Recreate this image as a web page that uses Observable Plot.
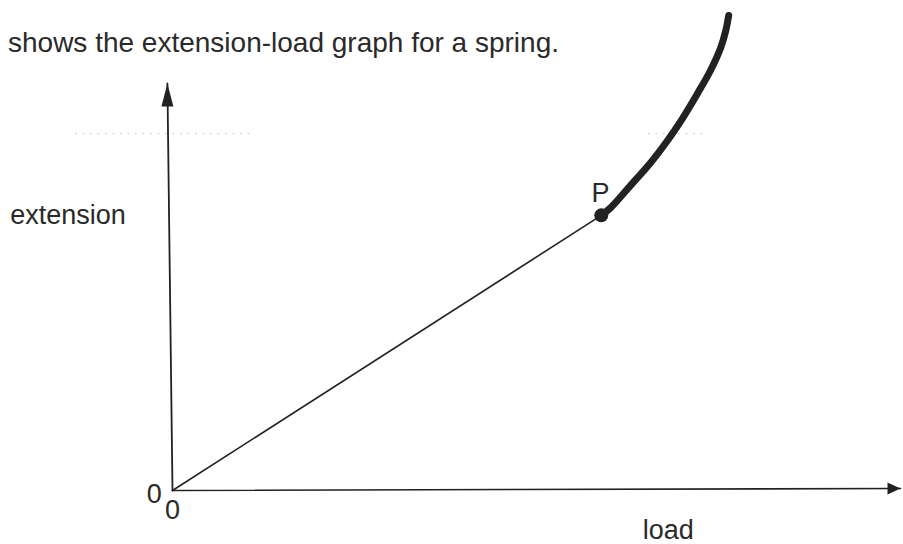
<!DOCTYPE html>
<html>
<head>
<meta charset="utf-8">
<script src="https://cdn.jsdelivr.net/npm/d3@7"></script>
<script src="https://cdn.jsdelivr.net/npm/@observablehq/plot@0.6"></script>
<style>
  html, body { margin: 0; padding: 0; background: #fff; }
  #wrap { position: relative; width: 903px; height: 544px; overflow: hidden; }
  #title { position: absolute; left: 8px; top: 29px; font-family: "Liberation Sans", Arial, sans-serif;
           font-size: 28px; line-height: 28px; color: #2a2a2a; white-space: nowrap; }
</style>
</head>
<body>
<div id="wrap">
  <div id="chart"></div>
  <div id="title">shows the extension-load graph for a spring.</div>
</div>
<script>
// Linear (Hooke's law) region: origin to limit of proportionality P
const linearLoad = [0, 5.89];
const linearExt  = [0, 6.76];
// Beyond P: curve
const curveLoad = [5.89, 6.02, 6.29, 6.57, 6.80, 6.98, 7.21, 7.39, 7.53, 7.60, 7.64];
const curveExt  = [6.76, 6.95, 7.49, 8.06, 8.60, 9.07, 9.75, 10.32, 10.88, 11.30, 11.67];
// Point P
const pointP = [{load: 5.89, ext: 6.76}];
// Axes (load axis and extension axis)
const xAxisLoad = [0, 10];
const xAxisExt  = [0, 0.05];
const yAxisLoad = [0, -0.07];
const yAxisExt  = [0, 10];
// Faint ghost dotted line from scan
const ghostExt = 8.77;
const ghostSegments = [[-1.33, 1.14], [6.54, 7.32]];
// Labels
const labelText = ["extension", "load", "0", "0", "P"];
const labelLoad = [-2.23, 6.81, -0.25, 0, 5.88];
const labelExt  = [6.76, -0.98, -0.10, -0.49, 7.30];
const labelAnchor = ["start", "middle", "middle", "middle", "middle"];

const zip = (xs, ys) => xs.map((x, i) => ({load: x, ext: ys[i]}));
const labels = labelText.map((t, i) => ({text: t, load: labelLoad[i], ext: labelExt[i], anchor: labelAnchor[i]}));

// Filled arrowhead symbols (tip at the anchor point, pointing up before rotation)
function arrowHead(lenFactor, widthFactor) {
  return {
    draw(ctx, size) {
      const r = Math.sqrt(size / Math.PI);
      ctx.moveTo(0, 0);
      ctx.lineTo(r * widthFactor, r * lenFactor);
      ctx.lineTo(-r * widthFactor, r * lenFactor);
      ctx.closePath();
    }
  };
}
const tallHead = arrowHead(2.3, 0.6);
const shortHead = arrowHead(1.3, 0.6);

const ink = "#222";
const font = "Liberation Sans, Arial, sans-serif";

const chart = Plot.plot({
  width: 903,
  height: 544,
  margin: 0,
  x: {domain: [0, 10], range: [172, 900], axis: null},
  y: {domain: [0, 10], range: [490, 83], axis: null},
  style: {background: "#fff", fontFamily: font, overflow: "visible"},
  marks: [
    ...ghostSegments.map(([a, b]) =>
      Plot.ruleY([ghostExt], {x1: a, x2: b, stroke: "#999", strokeWidth: 1, strokeDasharray: "1.5 6", strokeOpacity: 0.6})
    ),
    Plot.line(zip(xAxisLoad, xAxisExt), {x: "load", y: "ext", stroke: ink, strokeWidth: 1.6}),
    Plot.line(zip(yAxisLoad, yAxisExt), {x: "load", y: "ext", stroke: ink, strokeWidth: 1.8}),
    Plot.dot([{load: xAxisLoad[1], ext: xAxisExt[1]}], {x: "load", y: "ext", symbol: shortHead, r: 10, rotate: 90, fill: ink, stroke: "none"}),
    Plot.dot([{load: yAxisLoad[1], ext: yAxisExt[1]}], {x: "load", y: "ext", symbol: tallHead, r: 10, rotate: 0, fill: ink, stroke: "none"}),
    Plot.line(zip(linearLoad, linearExt), {x: "load", y: "ext", stroke: ink, strokeWidth: 1.6}),
    Plot.line(zip(curveLoad, curveExt), {x: "load", y: "ext", stroke: ink, strokeWidth: 7, curve: "catmull-rom", strokeLinecap: "round"}),
    Plot.dot(pointP, {x: "load", y: "ext", r: 7, fill: ink, stroke: "none"}),
    Plot.text(labels.filter(d => d.anchor === "start"), {x: "load", y: "ext", text: "text", textAnchor: "start", fontSize: 27, fill: "#2a2a2a", fontFamily: font}),
    Plot.text(labels.filter(d => d.anchor === "middle"), {x: "load", y: "ext", text: "text", textAnchor: "middle", fontSize: 27, fill: "#2a2a2a", fontFamily: font})
  ]
});
document.getElementById("chart").appendChild(chart);
</script>
</body>
</html>
